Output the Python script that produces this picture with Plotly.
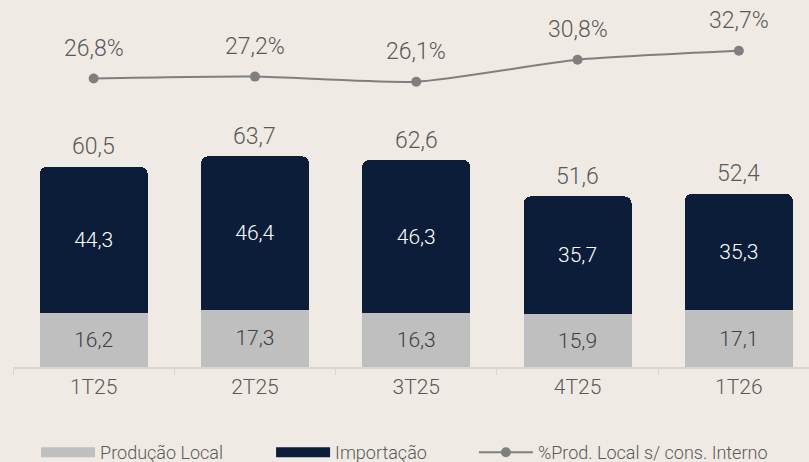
import plotly.graph_objects as go

categories = ["1T25", "2T25", "3T25", "4T25", "1T26"]
producao_local = [16.2, 17.3, 16.3, 15.9, 17.1]
importacao = [44.3, 46.4, 46.3, 35.7, 35.3]
totais = [60.5, 63.7, 62.6, 51.6, 52.4]
pct_prod_local = [26.8, 27.2, 26.1, 30.8, 32.7]

NAVY = "#0b1d39"
GRAY = "#bfbfbf"
LINE = "#7f7f7f"
TXT = "#595959"
FONT = "Roboto"

fig = go.Figure()
fig.add_trace(go.Bar(
    x=categories, y=producao_local, name="Produção Local", showlegend=False,
    marker=dict(color=GRAY, line=dict(width=0)),
    texttemplate="%{y:.1f}", textposition="inside", insidetextanchor="middle",
    textangle=0, constraintext="none",
    insidetextfont=dict(color="#404040", size=21, family=FONT, weight=300),
    width=0.67,
))
fig.add_trace(go.Bar(
    x=categories, y=importacao, name="Importação", showlegend=False,
    marker=dict(color=NAVY, line=dict(width=0), cornerradius=7),
    texttemplate="%{y:.1f}", textposition="inside", insidetextanchor="middle",
    textangle=0, constraintext="none",
    insidetextfont=dict(color="white", size=21, family=FONT, weight=300),
    width=0.67,
))
fig.add_trace(go.Scatter(
    x=categories, y=pct_prod_local, name="%Prod. Local s/ cons. Interno",
    yaxis="y2", mode="lines+markers", showlegend=False,
    line=dict(color=LINE, width=2, shape="spline", smoothing=0.6),
    marker=dict(color=LINE, size=10),
    cliponaxis=False,
))

# legend proxies (wide swatches as in the reference)
fig.add_trace(go.Scatter(x=[None], y=[None], mode="lines", name="Produção Local",
                         line=dict(color=GRAY, width=13), legend="legend"))
fig.add_trace(go.Scatter(x=[None], y=[None], mode="lines", name="Importação",
                         line=dict(color=NAVY, width=13), legend="legend"))
fig.add_trace(go.Scatter(x=[None], y=[None], mode="lines+markers",
                         name="%Prod. Local s/ cons. Interno", legend="legend2",
                         line=dict(color=LINE, width=2), marker=dict(color=LINE, size=10)))

annotations = []
for c, t in zip(categories, totais):
    annotations.append(dict(
        x=c, y=t, xref="x", yref="y", text=f"{t:.1f}".replace(".", ","),
        showarrow=False, yanchor="middle", yshift=20,
        font=dict(color=TXT, size=23, family=FONT, weight=300),
    ))
for c, p in zip(categories, pct_prod_local):
    annotations.append(dict(
        x=c, y=p, xref="x", yref="y2", text=f"{p:.1f}%".replace(".", ","),
        showarrow=False, yanchor="middle", yshift=30,
        font=dict(color=TXT, size=23, family=FONT, weight=300),
    ))

legend_common = dict(
    orientation="h", xanchor="left", y=-0.233, yanchor="middle",
    font=dict(size=18, color=TXT, family=FONT, weight=300),
    bgcolor="rgba(0,0,0,0)", itemwidth=54, traceorder="normal",
)

fig.update_layout(
    width=809, height=462,
    barmode="stack",
    separators=",.",
    paper_bgcolor="#efebe4",
    plot_bgcolor="rgba(0,0,0,0)",
    margin=dict(l=13, r=0, t=0, b=95, autoexpand=False),
    font=dict(family=FONT, color=TXT, size=20, weight=300),
    showlegend=True,
    legend=dict(x=0.029, entrywidth=166, entrywidthmode="pixels", **legend_common),
    legend2=dict(x=0.579, **legend_common),
    xaxis=dict(
        range=[-0.5, 4.435], showline=True, linecolor="#d6d6d6", linewidth=2,
        ticks="outside", tickson="boundaries", ticklen=6, tickcolor="#d6d6d6",
        tickfont=dict(size=21, color=TXT, family=FONT, weight=300),
        showgrid=False, zeroline=False, fixedrange=True,
    ),
    yaxis=dict(range=[0, 111], visible=False, showgrid=False, zeroline=False),
    yaxis2=dict(range=[-34.6, 43.5], overlaying="y", visible=False,
                showgrid=False, zeroline=False),
    annotations=annotations,
)

fig.write_html("out.html", config={"responsive": False, "displayModeBar": False},
               post_script="document.body.style.margin='0';document.body.style.overflow='hidden';")
